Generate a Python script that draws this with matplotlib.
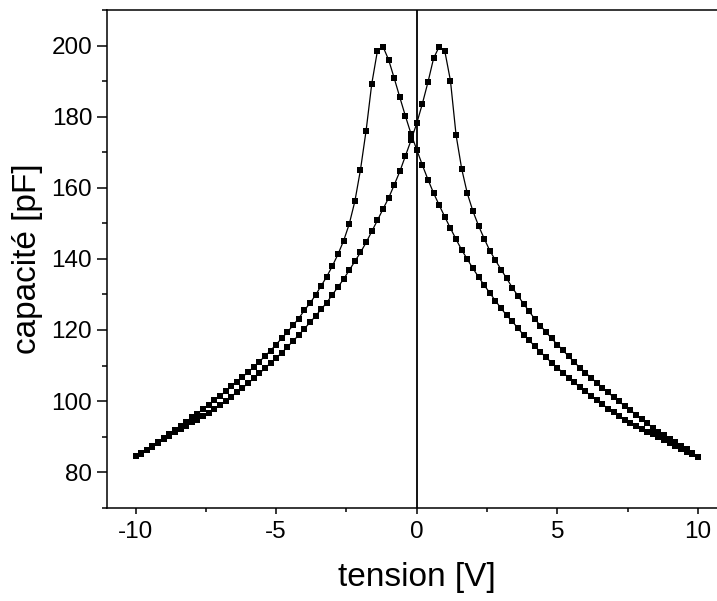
import numpy as np
import matplotlib
matplotlib.use('Agg')
from matplotlib import pyplot as plt
from matplotlib.ticker import MultipleLocator

plt.rcParams['font.family'] = ['Liberation Sans', 'DejaVu Sans']
plt.rcParams['axes.unicode_minus'] = False

# voltage sweep, -10 V to 10 V in 0.2 V steps
tension = np.round(np.arange(-10, 10.0001, 0.2), 1)

# branch with the peak at negative voltage
cap_neg = [
    84.5, 85.2, 86.1, 87.2, 88.4, 89.5, 90.6, 91.9, 93.1, 94.2,
    95.4, 96.5, 97.7, 99.0, 100.2, 101.4, 102.7, 104.1, 105.4, 106.8,
    108.1, 109.6, 111.1, 112.6, 114.2, 115.9, 117.7, 119.4, 121.3, 123.2,
    125.5, 127.5, 129.8, 132.4, 135.0, 138.0, 141.3, 145.1, 149.8, 156.2,
    165.1, 176.1, 189.2, 198.4, 199.7, 196.0, 190.8, 185.4, 180.1, 175.1,
    170.7, 166.4, 162.3, 158.5, 155.1, 151.8, 148.6, 145.5, 142.5, 139.9,
    137.3, 134.9, 132.6, 130.4, 128.2, 126.1, 124.1, 122.4, 120.5, 118.6,
    117.1, 115.4, 113.8, 112.3, 110.8, 109.4, 108.0, 106.6, 105.3, 103.9,
    102.7, 101.5, 100.3, 99.1, 97.9, 96.8, 95.7, 94.6, 93.8, 93.0,
    92.2, 91.4, 90.6, 89.8, 89.0, 88.2, 87.4, 86.6, 85.8, 85.1,
    84.4,
]

# branch with the peak at positive voltage
cap_pos = [
    84.5, 85.4, 86.3, 87.3, 88.3, 89.3, 90.3, 91.3, 92.2, 93.1,
    94.0, 94.8, 95.7, 96.7, 97.7, 98.8, 99.9, 101.2, 102.5, 103.7,
    105.0, 106.4, 107.8, 109.2, 110.7, 112.1, 113.6, 115.2, 116.9, 118.5,
    120.3, 122.1, 123.9, 125.8, 127.7, 129.9, 132.1, 134.3, 136.8, 139.3,
    141.8, 144.6, 147.7, 150.8, 154.0, 157.1, 160.8, 164.6, 169.0, 173.4,
    178.1, 183.6, 189.7, 196.4, 199.7, 198.4, 190.1, 174.8, 165.3, 158.4,
    153.4, 149.3, 145.7, 142.3, 139.6, 137.0, 134.5, 131.9, 129.6, 127.4,
    125.2, 123.1, 121.2, 119.4, 117.6, 115.9, 114.3, 112.6, 111.0, 109.4,
    108.0, 106.5, 105.2, 103.8, 102.5, 101.1, 99.9, 98.6, 97.4, 96.2,
    94.9, 93.7, 92.5, 91.4, 90.4, 89.4, 88.4, 87.4, 86.4, 85.4,
    84.4,
]

fig = plt.figure(figsize=(7.17, 6.01), dpi=100)
ax = fig.add_axes([0.1499, 0.1552, 0.8626, 0.8282])

for cap in [cap_neg, cap_pos]:
    ax.plot(tension, cap, '-s', color='black', lw=0.9, ms=4.5, mec='black', mew=0)

ax.axvline(0, color='black', lw=1.3)

ax.set_xlim(-11, 11)
ax.set_ylim(70, 210)
ax.xaxis.set_major_locator(MultipleLocator(5))
ax.xaxis.set_minor_locator(MultipleLocator(2.5))
ax.yaxis.set_minor_locator(MultipleLocator(10))
ax.set_yticks(np.arange(80, 201, 20))

ax.tick_params(axis='x', which='major', direction='out', length=4.5, width=1.1, labelsize=17.5, pad=5)
ax.tick_params(axis='x', which='minor', direction='out', length=3, width=1.1)
ax.tick_params(axis='y', which='major', direction='out', length=7, width=1.1, labelsize=17.5, pad=4)
ax.tick_params(axis='y', which='minor', direction='out', length=3.5, width=1.1)
for s in ax.spines.values():
    s.set_linewidth(1.1)

ax.set_xlabel('tension [V]', fontsize=24, labelpad=14)
ax.set_ylabel('capacité [pF]', fontsize=24, labelpad=6)

fig.savefig('out.png', dpi=100)
